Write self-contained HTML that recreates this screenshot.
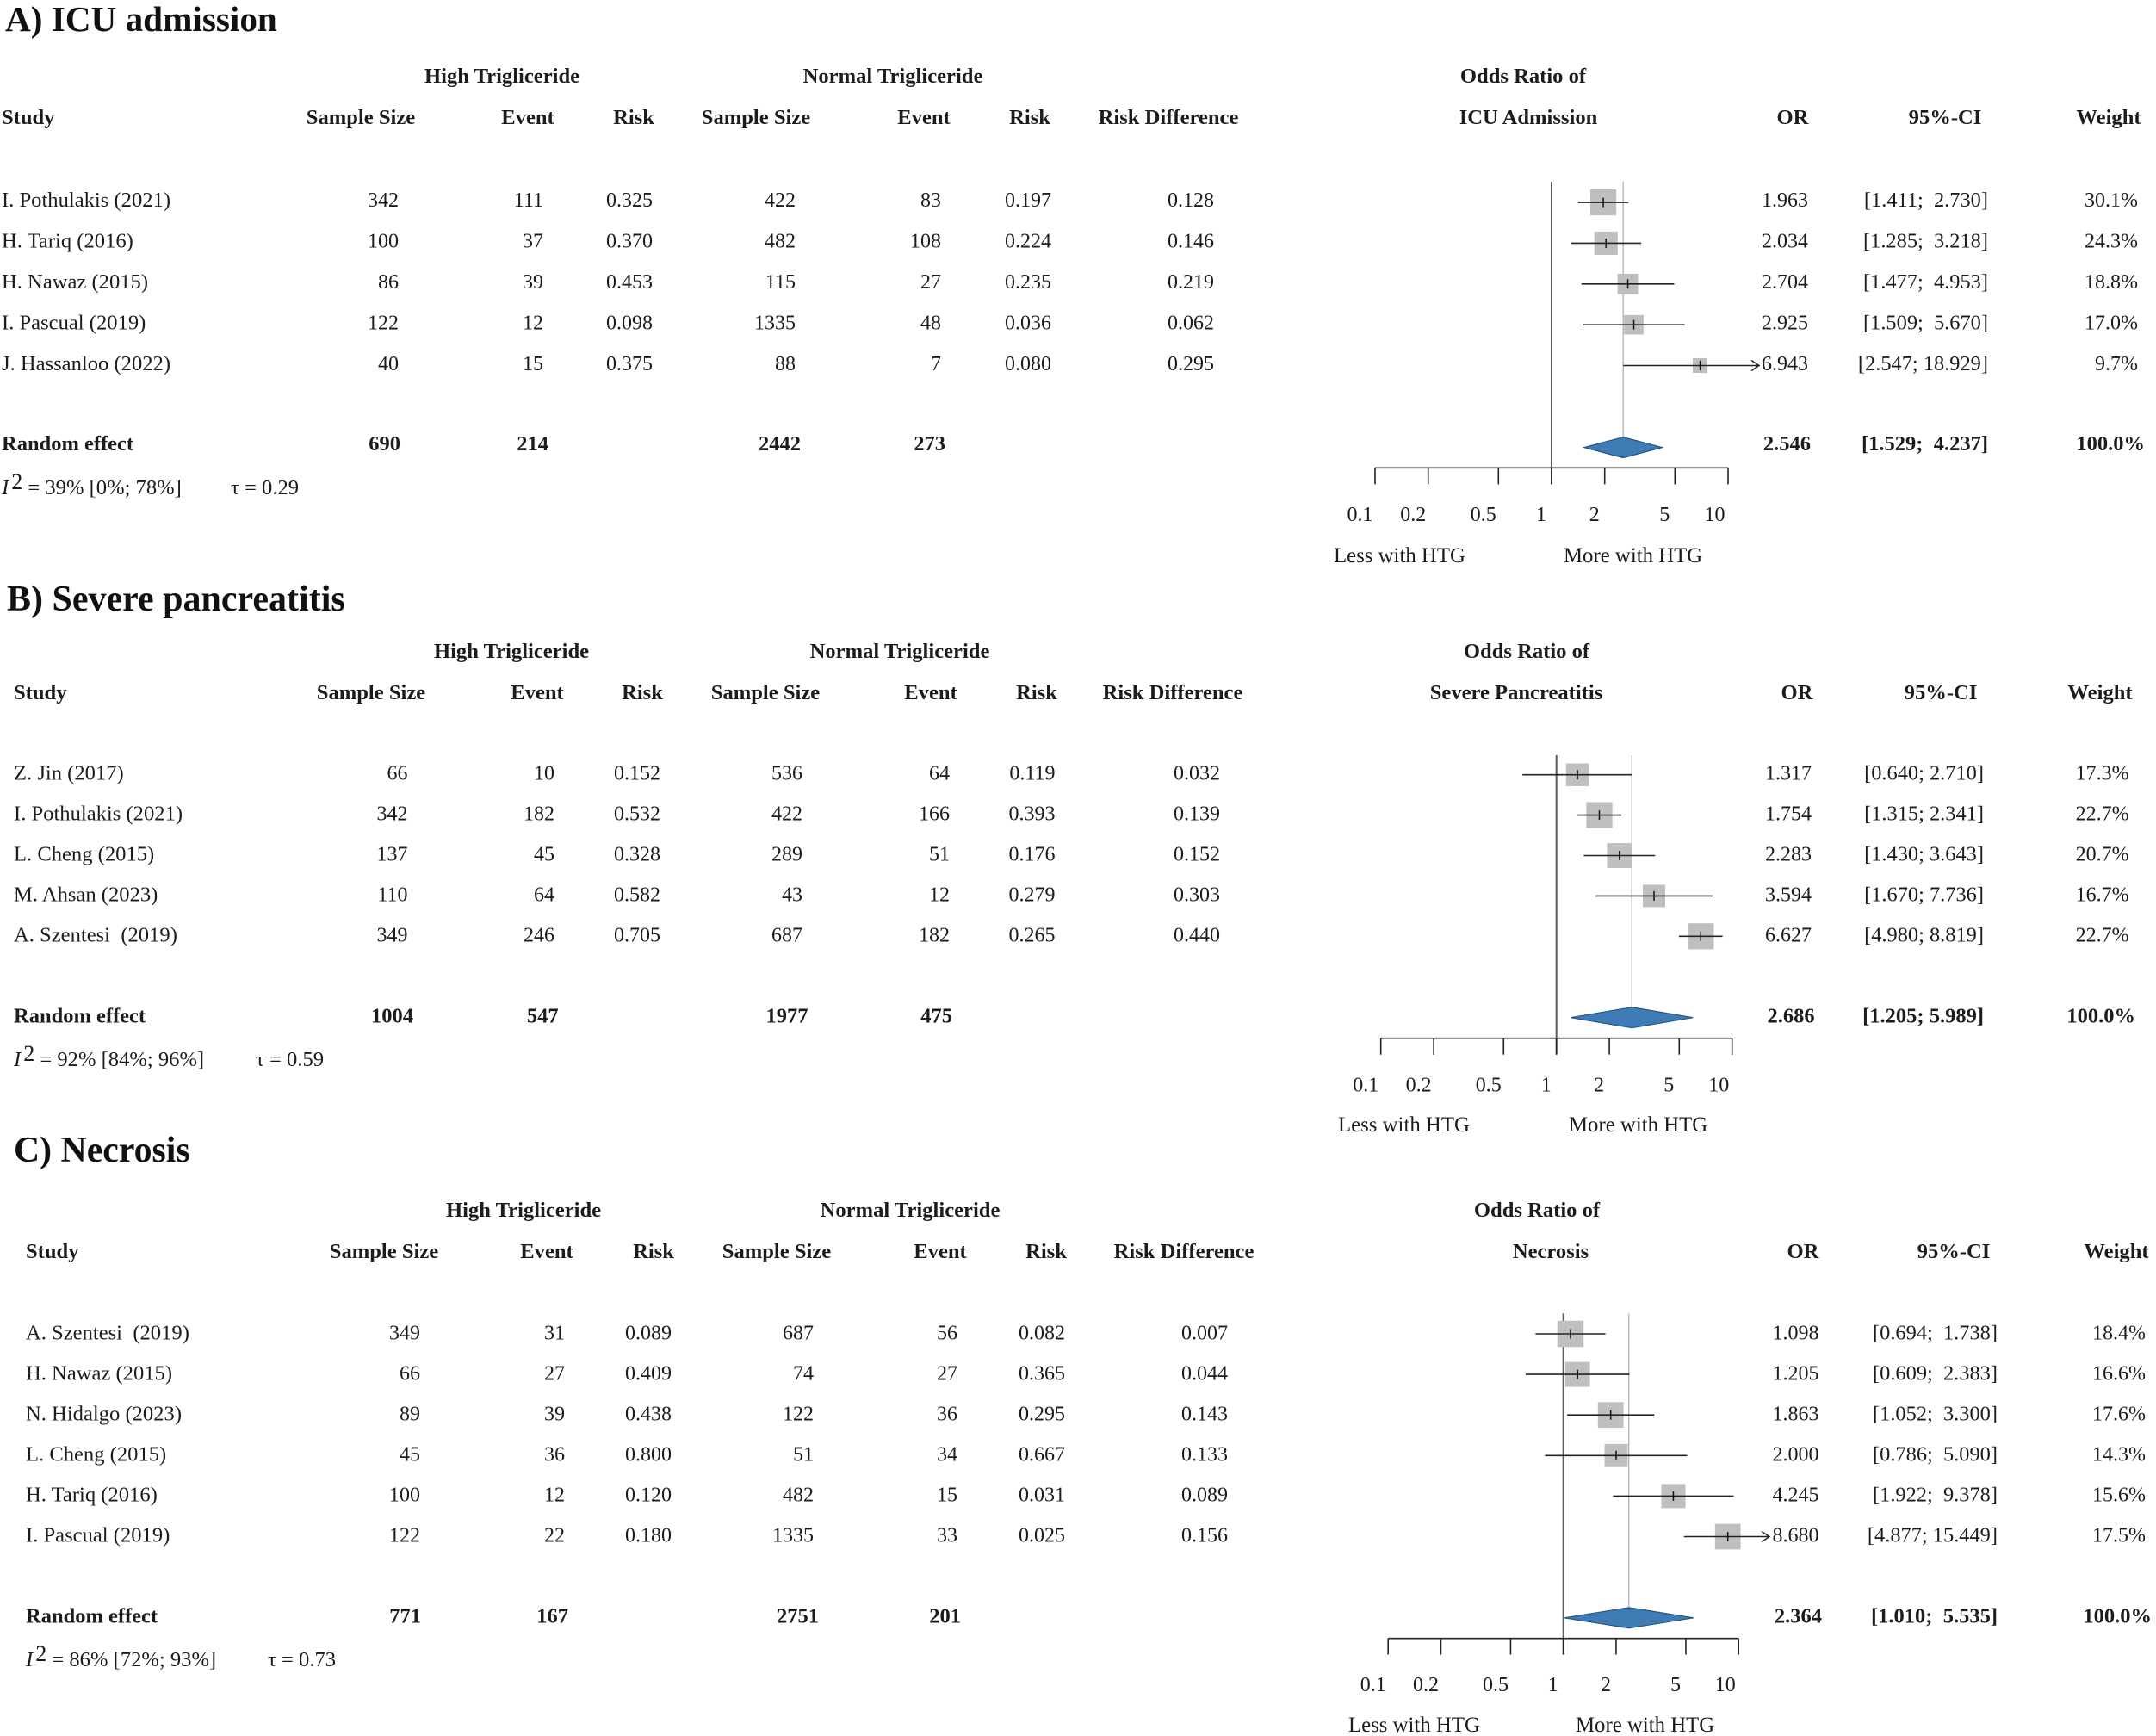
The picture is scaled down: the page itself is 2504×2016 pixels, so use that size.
<!DOCTYPE html>
<html lang="en">
<head>
<meta charset="utf-8">
<title>Forest plots: high vs normal triglyceride</title>
<style>
html,body{margin:0;padding:0;background:#fff;}
svg{display:block;}
text{font-family:"Liberation Serif",serif;fill:#1c1c1c;white-space:pre;font-size:24px;}
.title{font-size:41.2px;font-weight:bold;fill:#111;}
.h{font-size:24.6px;font-weight:bold;text-anchor:middle;}
.hl{font-size:24.6px;font-weight:bold;}
.b{font-weight:bold;font-size:24.5px;}
.lab{font-size:24.8px;}
.st{font-size:24.6px;}
.ci{font-size:24.4px;}
.het{font-size:24.6px;}
</style>
</head>
<body>
<svg id="figure" xmlns="http://www.w3.org/2000/svg" width="2504" height="2016" viewBox="0 0 2504 2016">
<rect x="0" y="0" width="2504" height="2016" fill="#fff"/>

<g id="panel-a">
<text class="title" x="6" y="36">A) ICU admission</text>
<text class="h" x="583" y="96">High Trigliceride</text>
<text class="h" x="1037" y="96">Normal Trigliceride</text>
<text class="h" x="1769" y="96">Odds Ratio of</text>
<text class="hl" x="2" y="144">Study</text>
<text class="h" x="419" y="144">Sample Size</text>
<text class="h" x="613" y="144">Event</text>
<text class="h" x="736" y="144">Risk</text>
<text class="h" x="878" y="144">Sample Size</text>
<text class="h" x="1073" y="144">Event</text>
<text class="h" x="1196" y="144">Risk</text>
<text class="h" x="1357" y="144">Risk Difference</text>
<text class="h" x="1775" y="144">ICU Admission</text>
<text class="h" x="2082" y="144">OR</text>
<text class="h" x="2259" y="144">95%-CI</text>
<text class="h" x="2449" y="144">Weight</text>
<text class="het" x="2" y="574"><tspan font-style="italic">I</tspan><tspan dx="3" dy="-6" font-size="26">2</tspan><tspan dy="6"> = 39% [0%; 78%]</tspan></text>
<text class="het" x="268" y="574">τ = 0.29</text>
<text class="lab" x="1549" y="653">Less with HTG</text>
<text class="lab" x="1816" y="653">More with HTG</text>
</g>

<g id="panel-b">
<text class="title" style="font-size:42px" x="8" y="709">B) Severe pancreatitis</text>
<text class="h" x="594" y="764">High Trigliceride</text>
<text class="h" x="1045" y="764">Normal Trigliceride</text>
<text class="h" x="1773" y="764">Odds Ratio of</text>
<text class="hl" x="16" y="812">Study</text>
<text class="h" x="431" y="812">Sample Size</text>
<text class="h" x="624" y="812">Event</text>
<text class="h" x="746" y="812">Risk</text>
<text class="h" x="889" y="812">Sample Size</text>
<text class="h" x="1081" y="812">Event</text>
<text class="h" x="1204" y="812">Risk</text>
<text class="h" x="1362" y="812">Risk Difference</text>
<text class="h" x="1761" y="812">Severe Pancreatitis</text>
<text class="h" x="2087" y="812">OR</text>
<text class="h" x="2254" y="812">95%-CI</text>
<text class="h" x="2439" y="812">Weight</text>
<text class="het" x="16" y="1238"><tspan font-style="italic">I</tspan><tspan dx="3" dy="-6" font-size="26">2</tspan><tspan dy="6"> = 92% [84%; 96%]</tspan></text>
<text class="het" x="297" y="1238">τ = 0.59</text>
<text class="lab" x="1554" y="1314">Less with HTG</text>
<text class="lab" x="1822" y="1314">More with HTG</text>
</g>

<g id="panel-c">
<text class="title" style="font-size:41.8px" x="16" y="1349">C) Necrosis</text>
<text class="h" x="608" y="1413">High Trigliceride</text>
<text class="h" x="1057" y="1413">Normal Trigliceride</text>
<text class="h" x="1785" y="1413">Odds Ratio of</text>
<text class="hl" x="30" y="1461">Study</text>
<text class="h" x="446" y="1461">Sample Size</text>
<text class="h" x="635" y="1461">Event</text>
<text class="h" x="759" y="1461">Risk</text>
<text class="h" x="902" y="1461">Sample Size</text>
<text class="h" x="1092" y="1461">Event</text>
<text class="h" x="1215" y="1461">Risk</text>
<text class="h" x="1375" y="1461">Risk Difference</text>
<text class="h" x="1801" y="1461">Necrosis</text>
<text class="h" x="2094" y="1461">OR</text>
<text class="h" x="2269" y="1461">95%-CI</text>
<text class="h" x="2458" y="1461">Weight</text>
<text class="het" x="30" y="1935"><tspan font-style="italic">I</tspan><tspan dx="3" dy="-6" font-size="26">2</tspan><tspan dy="6"> = 86% [72%; 93%]</tspan></text>
<text class="het" x="311" y="1935">τ = 0.73</text>
<text class="lab" x="1566" y="2011">Less with HTG</text>
<text class="lab" x="1830" y="2011">More with HTG</text>
</g>
</svg>

<script>
// Shared axis ticks
const tickValues = [0.1, 0.2, 0.5, 1, 2, 5, 10];
const tickLabels = ['0.1', '0.2', '0.5', '1', '2', '5', '10'];
const clipUpper = 15;

// Panel A: ICU admission
const aStudies = ['I. Pothulakis (2021)', 'H. Tariq (2016)', 'H. Nawaz (2015)', 'I. Pascual (2019)', 'J. Hassanloo (2022)'];
const aHighN = [342, 100, 86, 122, 40];
const aHighEvents = [111, 37, 39, 12, 15];
const aHighRisk = [0.325, 0.370, 0.453, 0.098, 0.375];
const aNormalN = [422, 482, 115, 1335, 88];
const aNormalEvents = [83, 108, 27, 48, 7];
const aNormalRisk = [0.197, 0.224, 0.235, 0.036, 0.080];
const aRiskDiff = [0.128, 0.146, 0.219, 0.062, 0.295];
const aOR = [1.963, 2.034, 2.704, 2.925, 6.943];
const aLower = [1.411, 1.285, 1.477, 1.509, 2.547];
const aUpper = [2.730, 3.218, 4.953, 5.670, 18.929];
const aWeight = [30.1, 24.3, 18.8, 17.0, 9.7];
const aTotals = [690, 214, 2442, 273];
const aPooled = [2.546, 1.529, 4.237];

// Panel B: Severe pancreatitis
const bStudies = ['Z. Jin (2017)', 'I. Pothulakis (2021)', 'L. Cheng (2015)', 'M. Ahsan (2023)', 'A. Szentesi  (2019)'];
const bHighN = [66, 342, 137, 110, 349];
const bHighEvents = [10, 182, 45, 64, 246];
const bHighRisk = [0.152, 0.532, 0.328, 0.582, 0.705];
const bNormalN = [536, 422, 289, 43, 687];
const bNormalEvents = [64, 166, 51, 12, 182];
const bNormalRisk = [0.119, 0.393, 0.176, 0.279, 0.265];
const bRiskDiff = [0.032, 0.139, 0.152, 0.303, 0.440];
const bOR = [1.317, 1.754, 2.283, 3.594, 6.627];
const bLower = [0.640, 1.315, 1.430, 1.670, 4.980];
const bUpper = [2.710, 2.341, 3.643, 7.736, 8.819];
const bWeight = [17.3, 22.7, 20.7, 16.7, 22.7];
const bTotals = [1004, 547, 1977, 475];
const bPooled = [2.686, 1.205, 5.989];

// Panel C: Necrosis
const cStudies = ['A. Szentesi  (2019)', 'H. Nawaz (2015)', 'N. Hidalgo (2023)', 'L. Cheng (2015)', 'H. Tariq (2016)', 'I. Pascual (2019)'];
const cHighN = [349, 66, 89, 45, 100, 122];
const cHighEvents = [31, 27, 39, 36, 12, 22];
const cHighRisk = [0.089, 0.409, 0.438, 0.800, 0.120, 0.180];
const cNormalN = [687, 74, 122, 51, 482, 1335];
const cNormalEvents = [56, 27, 36, 34, 15, 33];
const cNormalRisk = [0.082, 0.365, 0.295, 0.667, 0.031, 0.025];
const cRiskDiff = [0.007, 0.044, 0.143, 0.133, 0.089, 0.156];
const cOR = [1.098, 1.205, 1.863, 2.000, 4.245, 8.680];
const cLower = [0.694, 0.609, 1.052, 0.786, 1.922, 4.877];
const cUpper = [1.738, 2.383, 3.300, 5.090, 9.378, 15.449];
const cWeight = [18.4, 16.6, 17.6, 14.3, 15.6, 17.5];
const cTotals = [771, 167, 2751, 201];
const cPooled = [2.364, 1.010, 5.535];

const NS = 'http://www.w3.org/2000/svg';

function makeEl(parent, tag, attrs) {
  const el = document.createElementNS(NS, tag);
  for (const k in attrs) el.setAttribute(k, attrs[k]);
  parent.appendChild(el);
  return el;
}
function makeText(parent, x, y, str, anchor, cls) {
  const el = makeEl(parent, 'text', {x: x, y: y, 'text-anchor': anchor});
  if (cls) el.setAttribute('class', cls);
  el.textContent = str;
  return el;
}
function tickLabelOffset(v) {
  if (v < 1) return -17.5;
  if (v < 10) return -12;
  return -15.5;
}

function drawPanel(p) {
  const root = document.getElementById(p.id);
  const xScale = v => p.ref + p.decade * Math.log10(v);
  const forestY = i => p.forestY0 + p.forestStep * i;
  const textY = i => p.textY0 + p.textStep * i + 8;
  const n = p.studies.length;

  // Reference line and pooled-estimate line
  const refLine = makeEl(root, 'line', {x1: p.ref, x2: p.ref, y1: p.refTop, y2: p.tickEnd, stroke: '#5a5a5a', 'stroke-width': 2});
  
  
  const pooledLine = makeEl(root, 'line', {x1: xScale(p.pooled[0]), x2: xScale(p.pooled[0]), y1: p.refTop, y2: p.diamondY - 12, stroke: '#a8a8a8', 'stroke-width': 1.2});
  
  

  for (let i = 0; i < n; i++) {
    const y = forestY(i);
    const size = p.squareScale * Math.sqrt(p.weight[i]);
    const cx = xScale(p.or[i]);

    const square = makeEl(root, 'rect', {x: cx - size / 2, y: y - size / 2, width: size, height: size, fill: '#bfbfbf'});
    
    

    const clipped = p.upper[i] > clipUpper;
    const x2 = clipped ? xScale(clipUpper) : xScale(p.upper[i]);
    const ciLine = makeEl(root, 'line', {x1: xScale(p.lower[i]), x2: x2, y1: y, y2: y, stroke: '#222', 'stroke-width': 1.6});
    
    
    if (clipped) {
      const arrow = makeEl(root, 'polyline', {points: (x2 - 9) + ',' + (y - 6) + ' ' + x2 + ',' + y + ' ' + (x2 - 9) + ',' + (y + 6), fill: 'none', stroke: '#222', 'stroke-width': 1.4});
      
      
    }
    const tick = makeEl(root, 'line', {x1: cx, x2: cx, y1: y - 5.5, y2: y + 5.5, stroke: '#111', 'stroke-width': 1.5});
    
    

    const ty = textY(i);
    const c = p.cols;
    const t1 = makeText(root, p.studyX, ty, p.studies[i], 'start', 'st');
    
    
    const t2 = makeText(root, c.n, ty, String(p.highN[i]), 'end');
    
    
    const t3 = makeText(root, c.e, ty, String(p.highEvents[i]), 'end');
    
    
    const t4 = makeText(root, c.r, ty, p.highRisk[i].toFixed(3), 'end');
    
    
    const t5 = makeText(root, c.n2, ty, String(p.normalN[i]), 'end');
    
    
    const t6 = makeText(root, c.e2, ty, String(p.normalEvents[i]), 'end');
    
    
    const t7 = makeText(root, c.r2, ty, p.normalRisk[i].toFixed(3), 'end');
    
    
    const t8 = makeText(root, c.rd, ty, p.riskDiff[i].toFixed(3), 'end');
    
    
    const t9 = makeText(root, c.or, ty, p.or[i].toFixed(3), 'end');
    
    
    const sep = (p.upper[i] >= 10 || p.singleSpace) ? '; ' : ';  ';
    const t10 = makeText(root, c.ci + 1, ty, '[' + p.lower[i].toFixed(3) + sep + p.upper[i].toFixed(3) + ']', 'end', 'ci');
    
    
    const t11 = makeText(root, c.w, ty, p.weight[i].toFixed(1) + '%', 'end');
    
    
  }

  // Pooled diamond
  const dy = p.diamondY;
  const diamond = makeEl(root, 'polygon', {
    points: xScale(p.pooled[1]) + ',' + dy + ' ' + xScale(p.pooled[0]) + ',' + (dy - 12) + ' ' +
            xScale(p.pooled[2]) + ',' + dy + ' ' + xScale(p.pooled[0]) + ',' + (dy + 12),
    fill: '#3f7cb5', stroke: '#27557f', 'stroke-width': 1.2
  });
  
  

  // Random-effect row
  const ry = p.totalY;
  const c = p.cols;
  const r0 = makeText(root, p.studyX, ry, 'Random effect', 'start', 'b');
  
  
  const r1 = makeText(root, c.bn, ry, String(p.totals[0]), 'end', 'b');
  
  
  const r2 = makeText(root, c.be, ry, String(p.totals[1]), 'end', 'b');
  
  
  const r3 = makeText(root, c.bn2, ry, String(p.totals[2]), 'end', 'b');
  
  
  const r4 = makeText(root, c.be2, ry, String(p.totals[3]), 'end', 'b');
  
  
  const r5 = makeText(root, c.bor, ry, p.pooled[0].toFixed(3), 'end', 'b');
  
  
  const bsep = p.singleSpace ? '; ' : ';  ';
  const r6 = makeText(root, c.ci + 1, ry, '[' + p.pooled[1].toFixed(3) + bsep + p.pooled[2].toFixed(3) + ']', 'end', 'b');
  
  
  const r7 = makeText(root, c.bw, ry, '100.0%', 'end', 'b');
  
  

  // Axis
  const axisLine = makeEl(root, 'line', {x1: xScale(tickValues[0]), x2: xScale(tickValues[tickValues.length - 1]), y1: p.axisY, y2: p.axisY, stroke: '#222', 'stroke-width': 1.6});
  
  
  tickValues.forEach((v, i) => {
    const tx = xScale(v);
    const tm = makeEl(root, 'line', {x1: tx, x2: tx, y1: p.axisY, y2: p.tickEnd, stroke: '#222', 'stroke-width': 1.6});
    
    
    const lab = makeText(root, tx + tickLabelOffset(v), p.tickLabelY, tickLabels[i], 'middle');
    
    
  });
}

drawPanel({
  id: 'panel-a', studyX: 2, ref: 1802, decade: 205, refTop: 211, axisY: 543.3, tickEnd: 562.4, forestY0: 235.1, forestStep: 47.35,
  textY0: 231.8, textStep: 47.5, diamondY: 519.6, squareScale: 5.5, totalY: 523, tickLabelY: 605, singleSpace: false,
  cols: {n: 463, e: 631, r: 758, n2: 924, e2: 1093, r2: 1221, rd: 1410, or: 2100, ci: 2308, w: 2483, bn: 465, be: 637, bn2: 930, be2: 1098, bor: 2103, bw: 2491},
  studies: aStudies, highN: aHighN, highEvents: aHighEvents, highRisk: aHighRisk, normalN: aNormalN, normalEvents: aNormalEvents,
  normalRisk: aNormalRisk, riskDiff: aRiskDiff, or: aOR, lower: aLower, upper: aUpper, weight: aWeight, totals: aTotals, pooled: aPooled
});
drawPanel({
  id: 'panel-b', studyX: 16, ref: 1807.7, decade: 204, refTop: 877, axisY: 1205.7, tickEnd: 1224.7, forestY0: 899.7, forestStep: 46.9,
  textY0: 897.4, textStep: 47, diamondY: 1181.7, squareScale: 6.35, totalY: 1187.5, tickLabelY: 1267.5, singleSpace: true,
  cols: {n: 473.5, e: 644, r: 767, n2: 932, e2: 1103, r2: 1225.5, rd: 1417, or: 2104, ci: 2303, w: 2472.6, bn: 480, be: 648.6, bn2: 938.5, be2: 1106, bor: 2107.6, bw: 2480},
  studies: bStudies, highN: bHighN, highEvents: bHighEvents, highRisk: bHighRisk, normalN: bNormalN, normalEvents: bNormalEvents,
  normalRisk: bNormalRisk, riskDiff: bRiskDiff, or: bOR, lower: bLower, upper: bUpper, weight: bWeight, totals: bTotals, pooled: bPooled
});
drawPanel({
  id: 'panel-c', studyX: 30, ref: 1815.7, decade: 203.5, refTop: 1525.3, axisY: 1902.7, tickEnd: 1921.5, forestY0: 1549, forestStep: 47.1,
  textY0: 1547.6, textStep: 47, diamondY: 1878.8, squareScale: 7.1, totalY: 1884.3, tickLabelY: 1964, singleSpace: false,
  cols: {n: 488, e: 656, r: 780, n2: 945, e2: 1112, r2: 1237, rd: 1426, or: 2112.5, ci: 2319, w: 2492, bn: 489, be: 660, bn2: 951, be2: 1116, bor: 2116, bw: 2499},
  studies: cStudies, highN: cHighN, highEvents: cHighEvents, highRisk: cHighRisk, normalN: cNormalN, normalEvents: cNormalEvents,
  normalRisk: cNormalRisk, riskDiff: cRiskDiff, or: cOR, lower: cLower, upper: cUpper, weight: cWeight, totals: cTotals, pooled: cPooled
});
</script>
</body>
</html>
